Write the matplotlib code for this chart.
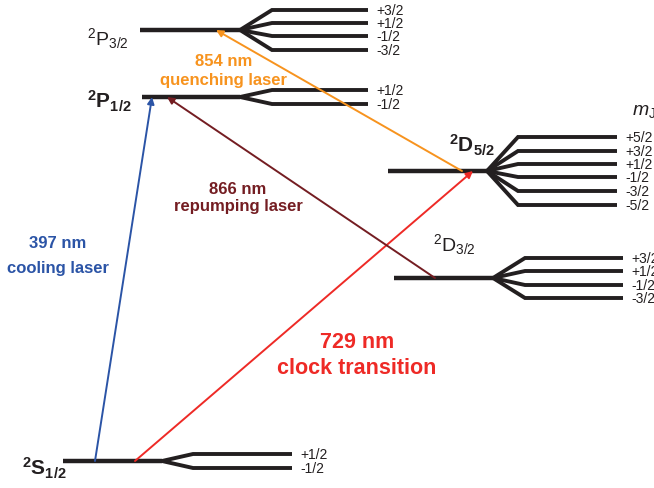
import matplotlib.pyplot as plt

plt.rcParams['font.family'] = ['Liberation Sans', 'DejaVu Sans']
plt.rcParams['mathtext.fontset'] = 'custom'
plt.rcParams['mathtext.rm'] = 'Liberation Sans'
plt.rcParams['mathtext.it'] = 'Liberation Sans:italic'
plt.rcParams['mathtext.bf'] = 'Liberation Sans:bold'

# levels: name, energy (drawn height), sublevel energies, mJ labels
names = ['S12', 'P12', 'P32', 'D32', 'D52']
labels = [r'$\mathbf{^{2}S_{1/2}}$', r'$\mathbf{^{2}P_{1/2}}$', r'$^{2}\mathrm{P}_{3/2}$',
          r'$^{2}\mathrm{D}_{3/2}$', r'$\mathbf{^{2}D_{5/2}}$']
energy = [462, 98, 31, 279, 172]
sub_energy = [
    [455, 469],
    [91, 105],
    [11, 24, 37, 51],
    [259, 272, 286, 299],
    [138, 152, 165, 178, 192, 206],
]
mj = [
    ['+1/2', '-1/2'],
    ['+1/2', '-1/2'],
    ['+3/2', '+1/2', '-1/2', '-3/2'],
    ['+3/2', '+1/2', '-1/2', '-3/2'],
    ['+5/2', '+3/2', '+1/2', '-1/2', '-3/2', '-5/2'],
]

# horizontal layout of each level: line start, line end, fan end, sublevel end
x_start = [63, 142, 140, 394, 388]
x_end = [162, 240, 240, 493, 487]
x_fan = [193, 272, 272, 525, 518]
x_sub = [292, 368, 368, 623, 617]
label_pos = [(22, 468), (87, 101), (87, 39), (433, 245), (449, 145)]
label_size = [15, 15, 14, 14, 15]

# transitions: from, to, x at start level, x at end level, colour,
# wavelength, description, label centre, line gap, font size
transitions = [
    ('S12', 'P12', 95, 152, '#2b54a6', '397 nm', 'cooling laser', (58, 243), 25, 12),
    ('S12', 'D52', 135, 473, '#ee2a26', '729 nm', 'clock transition', (357, 342), 26, 15.5),
    ('D32', 'P12', 435, 167, '#741d22', '866 nm', 'repumping laser', (238, 189), 18, 12),
    ('D52', 'P32', 462, 216, '#f7931e', '854 nm', 'quenching laser', (224, 62), 18, 12),
]

fig = plt.figure(figsize=(6.54, 4.89), dpi=100)
ax = fig.add_axes([0, 0, 1, 1])
ax.set_xlim(0, 654)
ax.set_ylim(489, 0)
ax.axis('off')

for i, n in enumerate(names):
    y = energy[i]
    ax.plot([x_start[i], x_end[i]], [y, y], color='#231f20', lw=3.2,
            solid_capstyle='butt', zorder=2)
    for ys, lab in zip(sub_energy[i], mj[i]):
        ax.plot([x_end[i], x_fan[i], x_sub[i]], [y, ys, ys], color='#231f20',
                lw=2.8, solid_capstyle='butt', solid_joinstyle='miter', zorder=2)
        ax.text(x_sub[i] + 8, ys, lab, fontsize=10, va='center', ha='left',
                color='#231f20')
    ax.text(label_pos[i][0], label_pos[i][1], labels[i], fontsize=label_size[i],
            va='center', ha='left', color='#231f20')

ax.text(632, 112, r'$m_{\mathrm{J}}$', fontsize=14, va='center', ha='left',
        color='#231f20')

for a, b, xa, xb, c, wl, desc, pos, gap, fs in transitions:
    ya = energy[names.index(a)]
    yb = energy[names.index(b)]
    ax.annotate('', xy=(xb, yb), xytext=(xa, ya),
                arrowprops=dict(arrowstyle='-|>', color=c, lw=1.4,
                                mutation_scale=10, shrinkA=0, shrinkB=0),
                zorder=3)
    ax.text(pos[0], pos[1], wl, color=c, fontsize=fs, fontweight='bold',
            ha='center', va='center')
    ax.text(pos[0], pos[1] + gap, desc, color=c, fontsize=fs, fontweight='bold',
            ha='center', va='center')

fig.savefig('out.png', dpi=100)
